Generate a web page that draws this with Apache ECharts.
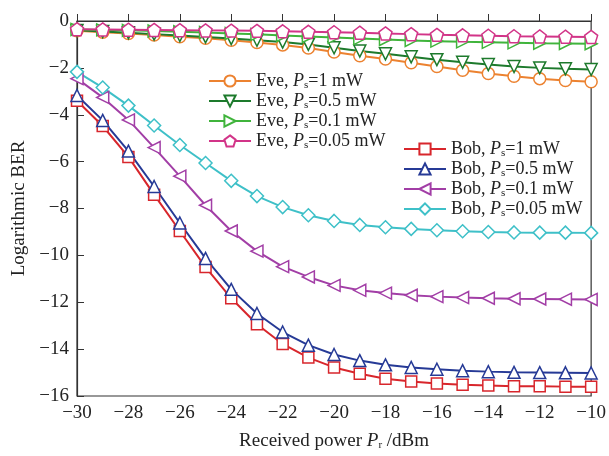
<!DOCTYPE html>
<html><head><meta charset="utf-8">
<script src="https://cdn.jsdelivr.net/npm/echarts@6/dist/echarts.min.js"></script>
<style>html,body{margin:0;padding:0;background:#fff}#c{width:609px;height:456px}</style>
</head><body><div id="c"></div>
<script>
const xs = [-30,-29,-28,-27,-26,-25,-24,-23,-22,-21,-20,-19,-18,-17,-16,-15,-14,-13,-12,-11,-10];
const eve1   = [-0.42,-0.48,-0.53,-0.60,-0.67,-0.74,-0.82,-0.92,-1.02,-1.15,-1.32,-1.48,-1.62,-1.78,-1.94,-2.10,-2.24,-2.36,-2.46,-2.54,-2.59];
const eve05  = [-0.40,-0.45,-0.50,-0.56,-0.62,-0.68,-0.75,-0.82,-0.90,-1.00,-1.14,-1.28,-1.40,-1.53,-1.65,-1.76,-1.86,-1.94,-2.00,-2.04,-2.07];
const eve01  = [-0.36,-0.38,-0.40,-0.43,-0.46,-0.49,-0.53,-0.57,-0.62,-0.66,-0.70,-0.75,-0.79,-0.83,-0.86,-0.89,-0.91,-0.93,-0.95,-0.96,-0.97];
const eve005 = [-0.35,-0.36,-0.37,-0.38,-0.39,-0.40,-0.41,-0.42,-0.44,-0.46,-0.48,-0.50,-0.53,-0.56,-0.59,-0.61,-0.63,-0.65,-0.66,-0.67,-0.68];
const bob1   = [-3.40,-4.48,-5.80,-7.41,-8.96,-10.50,-11.83,-12.94,-13.78,-14.36,-14.78,-15.05,-15.26,-15.38,-15.47,-15.52,-15.55,-15.58,-15.58,-15.60,-15.60];
const bob05  = [-3.18,-4.24,-5.55,-7.06,-8.62,-10.13,-11.45,-12.48,-13.27,-13.83,-14.23,-14.49,-14.67,-14.78,-14.86,-14.92,-14.96,-14.99,-15.00,-15.01,-15.02];
const bob01  = [-2.46,-3.26,-4.22,-5.40,-6.62,-7.86,-8.96,-9.82,-10.48,-10.92,-11.28,-11.49,-11.61,-11.70,-11.76,-11.80,-11.83,-11.85,-11.86,-11.87,-11.88];
const bob005 = [-2.17,-2.84,-3.61,-4.46,-5.29,-6.06,-6.82,-7.47,-7.94,-8.29,-8.53,-8.70,-8.80,-8.87,-8.93,-8.97,-9.00,-9.02,-9.03,-9.03,-9.04];
const eveNames = ['Eve, Ps=1 mW','Eve, Ps=0.5 mW','Eve, Ps=0.1 mW','Eve, Ps=0.05 mW'];
const bobNames = ['Bob, Ps=1 mW','Bob, Ps=0.5 mW','Bob, Ps=0.1 mW','Bob, Ps=0.05 mW'];
const xTicks = [-30,-28,-26,-24,-22,-20,-18,-16,-14,-12,-10];
const yTicks = [0,-2,-4,-6,-8,-10,-12,-14,-16];

const pent = 'path://M0,-1 L0.951,-0.309 L0.588,0.809 L-0.588,0.809 L-0.951,-0.309 Z';
const defs = [
  {name:eveNames[0], data:eve1,   c:'#ec8230', sym:'circle',   rot:0,   size:12},
  {name:eveNames[1], data:eve05,  c:'#1d7a2c', sym:'triangle', rot:180, size:12},
  {name:eveNames[2], data:eve01,  c:'#40b43c', sym:'triangle', rot:-90, size:12},
  {name:eveNames[3], data:eve005, c:'#d23488', sym:pent,       rot:0,   size:13},
  {name:bobNames[0], data:bob1,   c:'#d8262c', sym:'rect',     rot:0,   size:11},
  {name:bobNames[1], data:bob05,  c:'#263a96', sym:'triangle', rot:0,   size:12},
  {name:bobNames[2], data:bob01,  c:'#a23ea6', sym:'triangle', rot:90,  size:12},
  {name:bobNames[3], data:bob005, c:'#3ec0c8', sym:'diamond',  rot:0,   size:13}
];
const font = 'Liberation Serif';
const minus = v => String(v).replace('-', '\u2212');
const legendFmt = name => {
  const m = name.match(/^(\w+), Ps=(.*)$/);
  return '{n|' + m[1] + ', }{i|P}{s|s}{n|=' + m[2] + '}';
};
const rich = {
  n:{fontFamily:font, fontSize:18, color:'#222', lineHeight:21},
  i:{fontFamily:font, fontSize:18, fontStyle:'italic', color:'#222', lineHeight:21},
  s:{fontFamily:font, fontSize:11, color:'#222', lineHeight:21, padding:[9,0,0,0]}
};
const chart = echarts.init(document.getElementById('c'), null, {renderer:'canvas'});
chart.setOption({
  backgroundColor:'#fff',
  animation:false,
  grid:{left:77, right:17, top:21, bottom:53, show:true, borderColor:'#333', borderWidth:1.2},
  legend:[
    {data:eveNames, orient:'vertical', left:203, top:66, itemWidth:42, itemHeight:14, itemGap:0,
     formatter:legendFmt, textStyle:{rich:rich}, selectedMode:false},
    {data:bobNames, orient:'vertical', left:398, top:134, itemWidth:42, itemHeight:14, itemGap:0,
     formatter:legendFmt, textStyle:{rich:rich}, selectedMode:false}
  ],
  xAxis:{type:'value', min:-30, max:-10, interval:2,
    axisLine:{lineStyle:{color:'#333', width:1.2}},
    axisTick:{inside:true, length:7, lineStyle:{color:'#333'}},
    splitLine:{show:false},
    axisLabel:{fontFamily:font, fontSize:19, color:'#222', margin:8, formatter:minus,
      customValues:xTicks},
    name:'{n|Received power }{i|P}{s|r}{n| /dBm}', nameLocation:'middle', nameGap:34,
    nameTextStyle:{rich:{
      n:{fontFamily:font, fontSize:19, color:'#222', lineHeight:22},
      i:{fontFamily:font, fontSize:19, fontStyle:'italic', color:'#222', lineHeight:22},
      s:{fontFamily:font, fontSize:11, color:'#222', lineHeight:22, padding:[9,0,0,0]}}}
  },
  yAxis:{type:'value', min:-16, max:0, interval:2,
    axisLine:{lineStyle:{color:'#333', width:1.2}},
    axisTick:{inside:true, length:7, lineStyle:{color:'#333'}},
    splitLine:{show:false},
    axisLabel:{fontFamily:font, fontSize:19, color:'#222', margin:8, formatter:minus},
    name:'Logarithmic BER', nameLocation:'middle', nameGap:46,
    nameTextStyle:{fontFamily:font, fontSize:19, color:'#222'}
  },
  series: defs.map(d => ({
    name:d.name, type:'line', data:xs.map((x,i)=>[x,d.data[i]]),
    symbol:d.sym, symbolSize:d.size, symbolRotate:d.rot, showAllSymbol:true,
    lineStyle:{color:d.c, width:2},
    itemStyle:{color:'#fff', borderColor:d.c, borderWidth:1.5},
    emphasis:{disabled:true}
  }))
});
</script></body></html>
